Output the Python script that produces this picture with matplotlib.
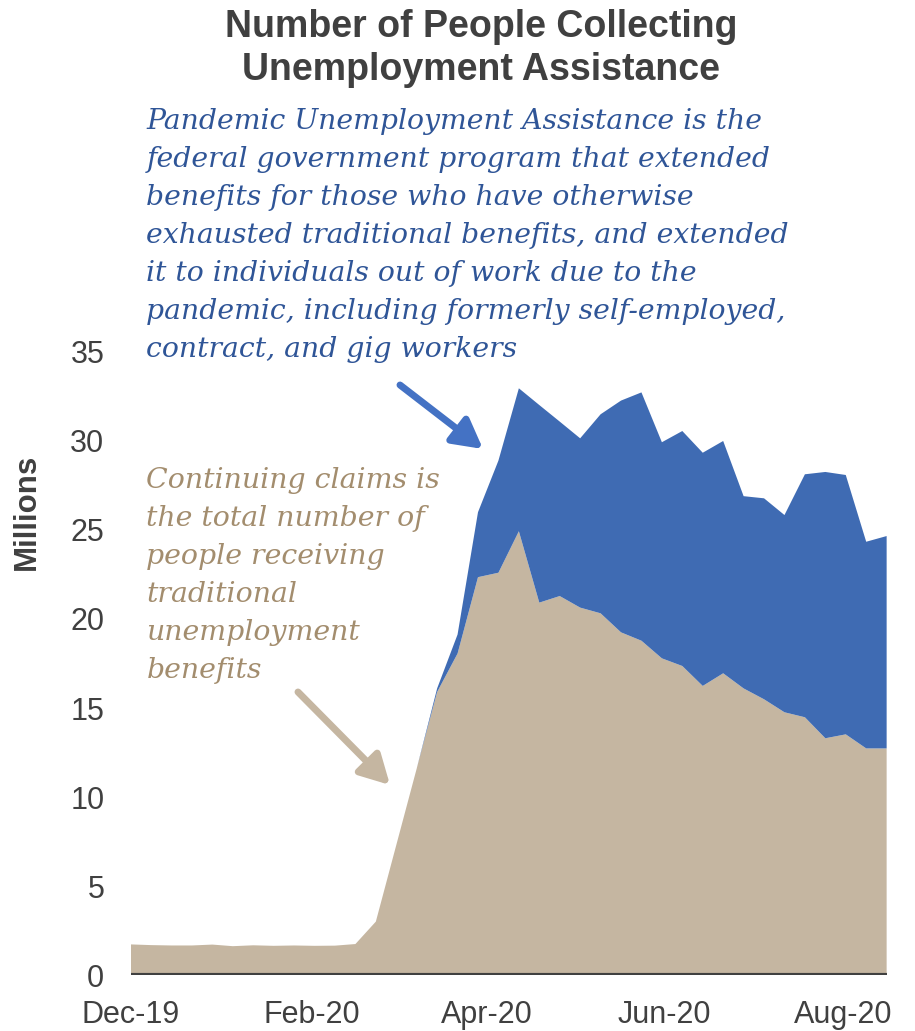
import matplotlib
matplotlib.use("Agg")
import matplotlib.pyplot as plt
import matplotlib.dates as mdates
import numpy as np
import pandas as pd

# weekly values, millions
weeks = pd.date_range("2019-12-01", periods=38, freq="7D")
continuing = [1.72, 1.68, 1.66, 1.66, 1.71, 1.62, 1.67, 1.64, 1.66, 1.64, 1.65, 1.74,
              3.0, 7.3, 11.6, 15.9, 18.06, 22.35, 22.6, 24.93,
              20.92, 21.29, 20.64, 20.32, 19.25, 18.78, 17.79, 17.36,
              16.24, 16.95, 16.1, 15.49, 14.76, 14.48, 13.3, 13.52, 12.73, 12.73]
total = [1.72, 1.68, 1.66, 1.66, 1.71, 1.62, 1.67, 1.64, 1.66, 1.64, 1.65, 1.74,
         3.0, 7.3, 11.6, 16.1, 19.13, 26.0, 28.9, 32.96,
         32.02, 31.09, 30.15, 31.5, 32.27, 32.73, 29.93, 30.56,
         29.34, 30.0, 26.9, 26.78, 25.84, 28.13, 28.26, 28.09, 24.34, 24.66]
pua = [t - c for t, c in zip(total, continuing)]

beige = "#C5B6A1"
blue = "#3F6BB3"
grey = "#404040"

fig = plt.figure(figsize=(9.15, 10.31), dpi=100)
ax = fig.add_axes([0.1428, 0.0543, 0.8262, 0.6043])

ax.stackplot(weeks, continuing, pua, colors=[beige, blue], linewidth=0)
ax.set_xlim(weeks[0], weeks[-1])
ax.set_ylim(0, 35)
ax.axhline(0, color=grey, lw=3, zorder=5)

ax.set_yticks(np.arange(0, 36, 5))
ax.xaxis.set_major_locator(mdates.MonthLocator(bymonth=[2, 4, 6, 8, 12]))
ax.xaxis.set_major_formatter(mdates.DateFormatter("%b-%y"))
ax.tick_params(length=0, labelsize=22, labelcolor=grey)
ax.tick_params(axis="y", pad=19)
ax.tick_params(axis="x", pad=18)
for lab in ax.get_xticklabels() + ax.get_yticklabels():
    lab.set_fontfamily("Liberation Sans")
for s in ax.spines.values():
    s.set_visible(False)

ax.set_ylabel("Millions", fontsize=22.5, fontweight="bold", color=grey,
              family="Liberation Sans")
ax.yaxis.set_label_coords(-0.117, 0.743)

fig.text(0.526, 0.991, "Number of People Collecting\nUnemployment Assistance",
         ha="center", va="top", fontsize=27, fontweight="bold", color=grey,
         family="Liberation Sans", linespacing=1.25)

fig.text(0.16, 0.895,
         "Pandemic Unemployment Assistance is the\n"
         "federal government program that extended\n"
         "benefits for those who have otherwise\n"
         "exhausted traditional benefits, and extended\n"
         "it to individuals out of work due to the\n"
         "pandemic, including formerly self-employed,\n"
         "contract, and gig workers",
         ha="left", va="top", fontsize=20.3, style="italic", color="#2F5597",
         family="DejaVu Serif", linespacing=1.52)

fig.text(0.16, 0.547,
         "Continuing claims is\nthe total number of\npeople receiving\n"
         "traditional\nunemployment\nbenefits",
         ha="left", va="top", fontsize=20.4, style="italic", color="#A38D6E",
         family="DejaVu Serif", linespacing=1.52)

fig.add_artist(matplotlib.patches.FancyArrowPatch(
    (400 / 915, 1 - 385 / 1031), (483 / 915, 1 - 449 / 1031),
    transform=fig.transFigure, arrowstyle="-|>,head_length=11,head_width=6",
    mutation_scale=1.6, lw=5, color="#4472C4", shrinkA=0, shrinkB=0))
fig.add_artist(matplotlib.patches.FancyArrowPatch(
    (298 / 915, 1 - 692 / 1031), (390 / 915, 1 - 785 / 1031),
    transform=fig.transFigure, arrowstyle="-|>,head_length=11,head_width=6",
    mutation_scale=1.6, lw=5, color=beige, shrinkA=0, shrinkB=0))

fig.savefig("out.png", dpi=100)
